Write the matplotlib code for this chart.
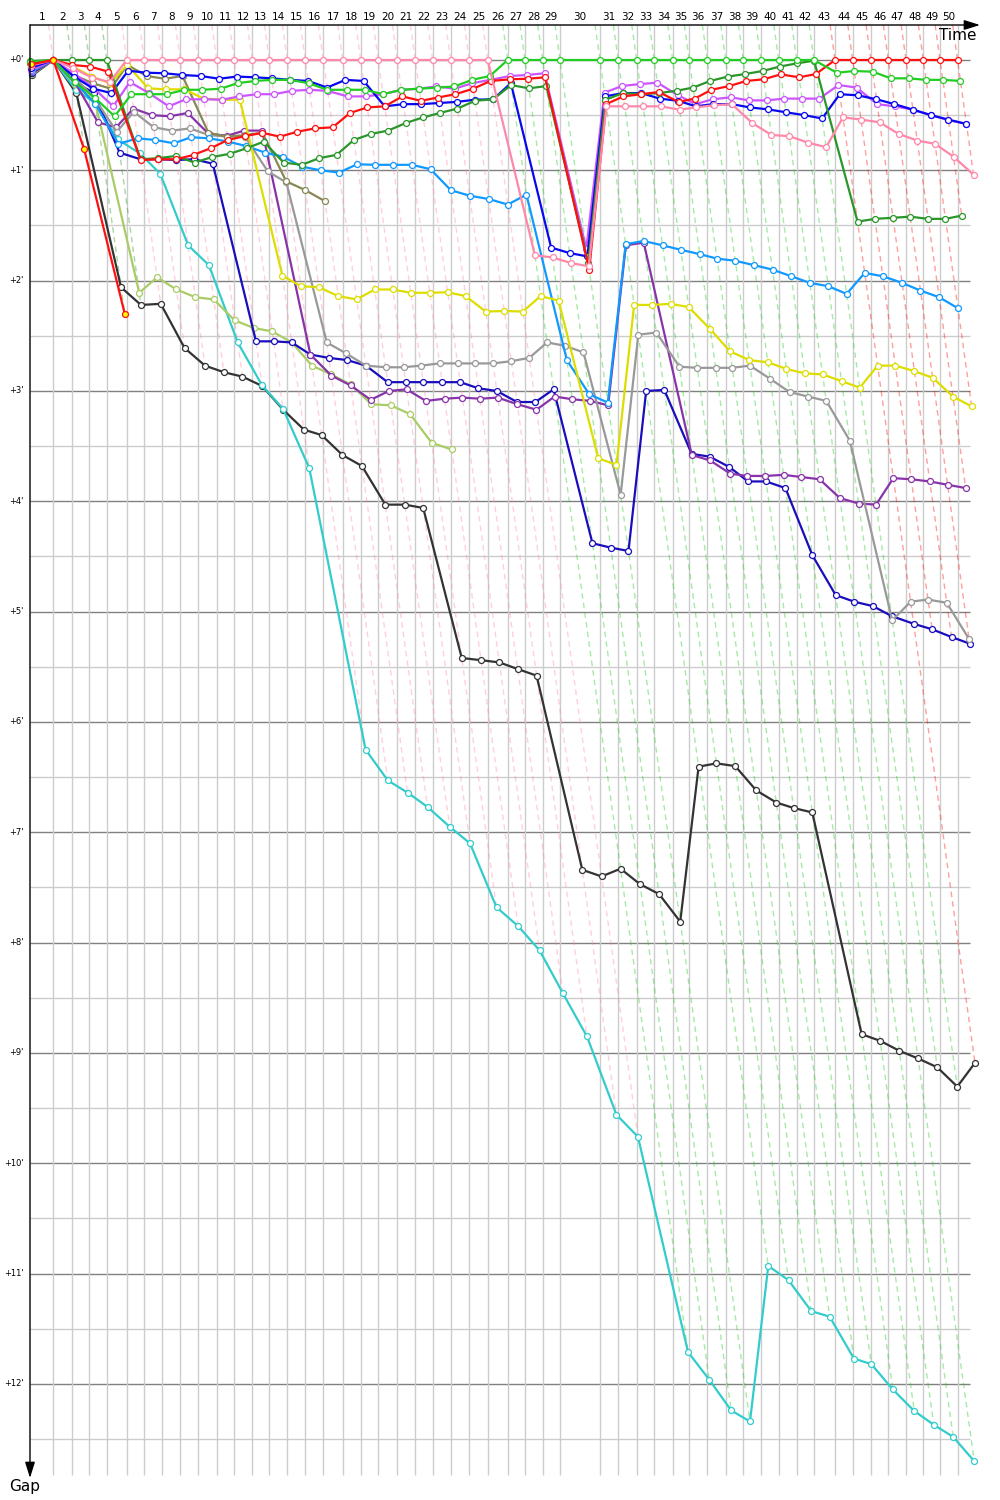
import matplotlib.pyplot as plt
import numpy as np

# leader lap times in seconds, laps 1..50
leader_lap_s = [90.8, 71.7, 68.6, 67.8, 77.9, 68.6, 70.1, 70.1, 70.1, 71.7,
                68.6, 70.1, 66.2, 70.1, 70.1, 70.1, 75.6, 70.1, 68.6, 74.0,
                70.1, 67.8, 70.1, 72.5, 71.7, 77.9, 67.4, 69.0, 67.4, 155.8,
                71.3, 71.7, 68.6, 71.7, 64.7, 70.1, 71.7, 68.6, 69.0, 69.0,
                70.1, 67.4, 81.8, 69.0, 71.3, 67.4, 69.0, 67.4, 65.1, 68.2]
lap_labels = [str(i) for i in range(1, 51)]

# gaps to leader in minutes, lap 0 (start) .. last completed lap
pink = [0.05, 0, 0.07, 0.16, 0.2] + [0] * 21 + [1.77, 1.79, 1.84, 1.87,
        0.42, 0.42, 0.42, 0.42, 0.45, 0.43, 0.41, 0.40, 0.57, 0.68, 0.69,
        0.75, 0.79, 0.52, 0.54, 0.565, 0.67, 0.73, 0.76, 0.876, 1.04]
green = [0.02, 0, 0.2, 0.34, 0.51, 0.31, 0.31, 0.31, 0.27, 0.27, 0.26, 0.21,
         0.19, 0.18, 0.18, 0.21, 0.27, 0.27, 0.27, 0.31, 0.27, 0.26, 0.25,
         0.24, 0.18, 0.145] + [0] * 17 + [0.115, 0.10, 0.106, 0.166, 0.166,
         0.18, 0.18, 0.19]
dkgreen = [0.01, 0, 0, 0, 0, 0.90, 0.89, 0.87, 0.93, 0.88, 0.85, 0.80, 0.74,
           0.93, 0.95, 0.89, 0.86, 0.725, 0.67, 0.64, 0.57, 0.52, 0.48, 0.44,
           0.37, 0.356, 0.227, 0.257, 0.236, 1.84, 0.36, 0.30, 0.31, 0.30,
           0.278, 0.25, 0.19, 0.15, 0.127, 0.10, 0.06, 0.03, 0.006, 1.465,
           1.44, 1.43, 1.42, 1.44, 1.44, 1.41]
red = [0.03, 0, 0.045, 0.06, 0.106, 0.906, 0.90, 0.90, 0.86, 0.80, 0.725,
       0.69, 0.66, 0.695, 0.65, 0.62, 0.61, 0.48, 0.43, 0.42, 0.33, 0.37,
       0.34, 0.31, 0.26, 0.19, 0.175, 0.17, 0.157, 1.90, 0.40, 0.33, 0.31,
       0.29, 0.38, 0.35, 0.27, 0.236, 0.19, 0.175, 0.13, 0.157, 0.127] + [0] * 8
blue = [0.07, 0, 0.15, 0.26, 0.30, 0.097, 0.115, 0.12, 0.136, 0.145, 0.17,
        0.15, 0.157, 0.166, 0.18, 0.19, 0.25, 0.18, 0.19, 0.42, 0.40, 0.40,
        0.39, 0.38, 0.36, 0.356, 0.21, 1.70, 1.75, 1.78, 0.33, 0.30, 0.30,
        0.35, 0.37, 0.42, 0.40, 0.40, 0.43, 0.447, 0.474, 0.50, 0.53, 0.31,
        0.32, 0.356, 0.40, 0.45, 0.50, 0.54, 0.58]
violet = [0.09, 0, 0.12, 0.25, 0.42, 0.2, 0.3, 0.42, 0.356, 0.356, 0.36,
          0.33, 0.31, 0.31, 0.28, 0.27, 0.28, 0.33, 0.33, 0.31, 0.27, 0.26,
          0.24, 0.26, 0.21, 0.18, 0.145, 0.136, 0.12, 1.71, 0.296, 0.236,
          0.218, 0.206, 0.317, 0.40, 0.356, 0.338, 0.366, 0.366, 0.35, 0.35,
          0.35, 0.227, 0.25, 0.40, 0.42, 0.45, 0.50, 0.545, 0.58]
yellow = [0.06, 0, 0.06, 0.15, 0.21, 0.045, 0.257, 0.266, 0.266, 0.35, 0.36,
          0.36, 1.955, 2.05, 2.06, 2.14, 2.17, 2.08, 2.08, 2.11, 2.11, 2.105,
          2.14, 2.28, 2.275, 2.28, 2.14, 2.18, 3.61, 3.67, 2.22, 2.22, 2.21,
          2.24, 2.44, 2.64, 2.72, 2.74, 2.80, 2.84, 2.85, 2.91, 2.97, 2.77,
          2.77, 2.82, 2.88, 3.05, 3.14]
olive = [0.07, 0, 0.136, 0.21, 0.26, 0.045, 0.145, 0.17, 0.145, 0.66, 0.695,
         0.68, 0.66, 1.10, 1.18, 1.28]
gray = [0.1, 0, 0.15, 0.35, 0.65, 0.47, 0.61, 0.64, 0.62, 0.68, 0.695, 0.695,
        1.01, 1.11, 2.56, 2.66, 2.77, 2.785, 2.785, 2.77, 2.75, 2.75, 2.75,
        2.75, 2.73, 2.70, 2.56, 2.59, 2.65, 3.94, 2.49, 2.47, 2.78, 2.79,
        2.79, 2.79, 2.77, 2.89, 3.01, 3.05, 3.09, 3.45, 5.08, 4.91, 4.89,
        4.92, 5.25]
purple = [0.11, 0, 0.2, 0.565, 0.61, 0.44, 0.50, 0.51, 0.48, 0.67, 0.686,
          0.64, 0.64, 2.67, 2.86, 2.95, 3.08, 3.0, 2.985, 3.09, 3.07, 3.06,
          3.07, 3.06, 3.12, 3.17, 3.05, 3.075, 3.09, 3.13, 1.68, 1.655, 3.58,
          3.63, 3.75, 3.77, 3.77, 3.76, 3.78, 3.80, 3.97, 4.02, 4.03, 3.79,
          3.80, 3.82, 3.85, 3.88]
navy = [0.12, 0, 0.2, 0.3, 0.84, 0.9, 0.9, 0.906, 0.9, 0.94, 2.55, 2.55,
        2.56, 2.67, 2.70, 2.72, 2.77, 2.92, 2.92, 2.92, 2.92, 2.92, 2.976,
        3.0, 3.10, 3.10, 2.985, 4.38, 4.42, 4.45, 3.0, 2.99, 3.57, 3.595,
        3.69, 3.82, 3.82, 3.88, 4.49, 4.85, 4.91, 4.95, 5.04, 5.11, 5.16,
        5.23, 5.29]
azure = [0.1, 0, 0.2, 0.4, 0.76, 0.71, 0.725, 0.755, 0.70, 0.71, 0.74, 0.78,
         0.84, 0.876, 0.967, 1.0, 1.02, 0.945, 0.95, 0.95, 0.95, 0.99, 1.18,
         1.23, 1.26, 1.31, 1.22, 2.72, 3.03, 3.105, 1.67, 1.64, 1.68, 1.72,
         1.76, 1.80, 1.82, 1.86, 1.90, 1.96, 2.02, 2.05, 2.12, 1.93, 1.96,
         2.02, 2.09, 2.15, 2.25]
black = [0.14, 0, 0.3, 2.06, 2.22, 2.21, 2.61, 2.77, 2.83, 2.87, 2.955, 3.17,
         3.35, 3.40, 3.58, 3.68, 4.03, 4.03, 4.06, 5.42, 5.44, 5.46, 5.52,
         5.58, 7.34, 7.40, 7.33, 7.47, 7.56, 7.81, 6.405, 6.375, 6.40, 6.62,
         6.73, 6.78, 6.82, 8.83, 8.89, 8.98, 9.05, 9.13, 9.305, 9.09]
cyan = [0.12, 0, 0.27, 0.39, 0.72, 0.846, 1.03, 1.68, 1.86, 2.56, 2.95, 3.16,
        3.70, 6.25, 6.53, 6.64, 6.77, 6.95, 7.10, 7.68, 7.85, 8.07, 8.46,
        8.85, 9.56, 9.76, 11.71, 11.96, 12.24, 12.34, 10.93, 11.06, 11.34,
        11.39, 11.77, 11.82, 12.05, 12.245, 12.37, 12.48, 12.70]
lime = [0.13, 0, 0.22, 0.38, 2.11, 1.97, 2.08, 2.15, 2.17, 2.36, 2.43, 2.46,
        2.56, 2.77, 2.85, 2.94, 3.12, 3.13, 3.21, 3.47, 3.53]
retired = [0.04, 0, 0.81, 2.30]

# name: (gaps, line colour, marker fill); pink first so it wins lap-1 ties
drivers = {
    'pink': (pink, '#ff88aa', 'white'),
    'green': (green, '#22cc22', 'white'),
    'dkgreen': (dkgreen, '#2a962a', 'white'),
    'red': (red, '#ff1010', 'white'),
    'blue': (blue, '#0808f0', 'white'),
    'violet': (violet, '#cc55ff', 'white'),
    'yellow': (yellow, '#dddd00', 'white'),
    'olive': (olive, '#888855', 'white'),
    'gray': (gray, '#999999', 'white'),
    'purple': (purple, '#8833aa', 'white'),
    'navy': (navy, '#1a0dbb', 'white'),
    'azure': (azure, '#1199ff', 'white'),
    'black': (black, '#333333', 'white'),
    'cyan': (cyan, '#33cccc', 'white'),
    'lime': (lime, '#aacc66', 'white'),
    'retired': (retired, '#ff1010', '#ffff00'),
}

# pixel layout: time 15.4 px/min from x=30, gap 110.33 px/min from y=60
PXT, PXG = 15.4, 110.33
def dx(px): return (px - 30) / PXT
def dy(py): return (py - 60) / PXG

T = np.concatenate([[0], np.cumsum(leader_lap_s) / 60.0])

fig = plt.figure(figsize=(10, 15), dpi=100)
ax = fig.add_axes([0, 0, 1, 1])
ax.set_xlim(dx(0), dx(1000))
ax.set_ylim(dy(1500), dy(0))
ax.axis('off')

top, bottom, right = dy(25), dy(1475), dx(970)

# grid
for m in range(0, 13):
    ax.hlines(m + 0.5, 0, right, color='#cccccc', lw=1, zorder=1)
    ax.hlines(m, 0, right, color='#808080', lw=1, zorder=1)
ax.vlines(T[1:], top, bottom, color='#cccccc', lw=1, zorder=1)

# lap lines, coloured by the leader of that lap
for k in range(1, len(T)):
    done = [(v[0][k], v[1]) for v in drivers.values() if len(v[0]) > k]
    lead_col = min(done, key=lambda p: p[0])[1]
    gmax = max(p[0] for p in done)
    g = np.array([top, gmax])
    ax.plot(T[k] + g, g, color=lead_col, alpha=0.4, lw=1,
            ls=(0, (4, 3)), zorder=2)

# drivers
order = ['black', 'cyan', 'lime', 'navy', 'purple', 'gray', 'olive', 'azure',
         'yellow', 'violet', 'blue', 'dkgreen', 'red', 'green', 'pink', 'retired']
for name in order:
    gaps, col, fill = drivers[name]
    g = np.array(gaps, dtype=float)
    x = T[:len(g)] + g
    ax.plot(x, g, color=col, lw=1.6, marker='o', ms=4.3, mfc=fill, mec=col,
            mew=0.9, zorder=3, clip_on=False)

# axes with arrows
arrow = dict(arrowstyle='-|>,head_length=0.8,head_width=0.25', color='black',
             lw=1, mutation_scale=12, shrinkA=0, shrinkB=0)
ax.annotate('', xy=(dx(980), top), xytext=(0, top), arrowprops=arrow, zorder=5)
ax.annotate('', xy=(0, dy(1478)), xytext=(0, top), arrowprops=arrow, zorder=5)

for k, lab in enumerate(lap_labels, start=1):
    ax.text((T[k - 1] + T[k]) / 2, dy(17), lab, ha='center', va='center',
            fontsize=7.5, family='DejaVu Sans')
for m in range(0, 13):
    ax.text(dx(24), m, "+%d'" % m, ha='right', va='center', fontsize=6,
            family='DejaVu Sans')
ax.text(dx(977), dy(35), 'Time', ha='right', va='center', fontsize=11)
ax.text(dx(25), dy(1486), 'Gap', ha='center', va='center', fontsize=11)

fig.savefig('out.png', dpi=100)
